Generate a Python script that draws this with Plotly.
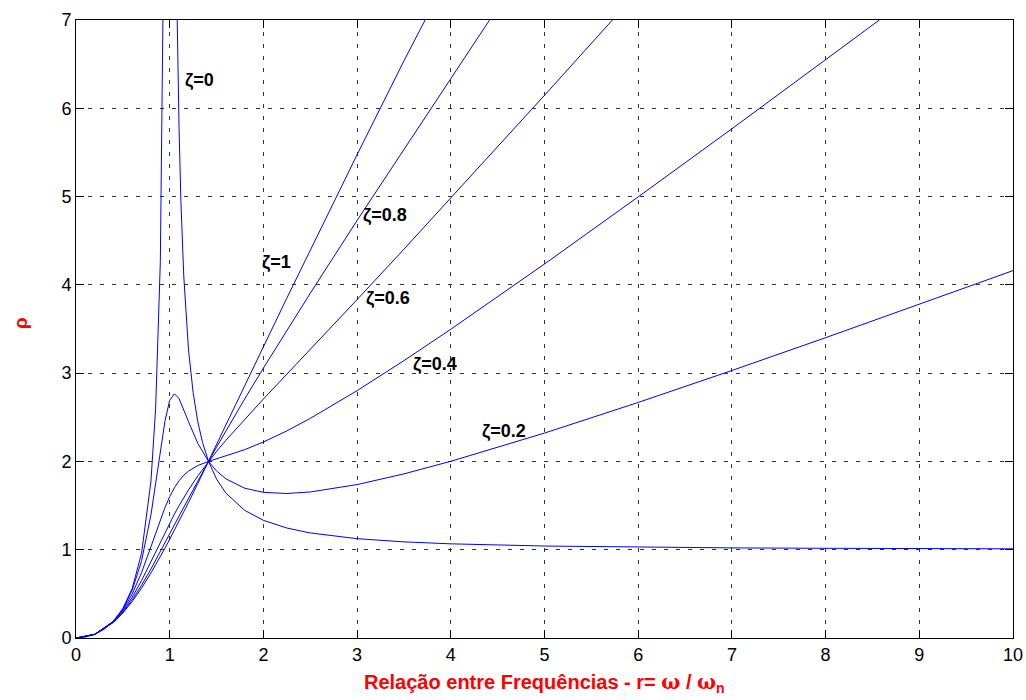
import plotly.graph_objects as go

# Frequency ratio samples r = w / wn
r_grid = [0, 0.2, 0.4, 0.5, 0.6, 0.7, 0.8, 0.85, 0.9, 0.95, 1.0, 1.05, 1.1, 1.15,
          1.2, 1.3, 1.4142, 1.5, 1.6, 1.8, 2.0, 2.25, 2.5, 3, 3.5, 4, 5, 6, 7, 8, 9, 10]

# Undamped curve (two branches around resonance)
r_z0 = [0, 0.1, 0.2, 0.3, 0.4, 0.5, 0.6, 0.7, 0.8, 0.85, 0.9, 0.92, 0.93, 0.94, 0.95, 0.98,
        None,
        1.02, 1.05, 1.06, 1.07, 1.08, 1.09, 1.1, 1.12, 1.15, 1.2, 1.25, 1.3, 1.35, 1.4142,
        1.5, 1.6, 1.8, 2.0, 2.25, 2.5, 3, 3.5, 4, 5, 6, 7, 8, 9, 10]
rho_z0 = [0, 0.0101, 0.0417, 0.0989, 0.1905, 0.3333, 0.5625, 0.9608, 1.778, 2.604, 4.263,
          5.51, 6.402, 7.59, 9.256, 24.25,
          None,
          25.75, 10.76, 9.09, 7.90, 7.01, 6.316, 5.762, 4.931, 4.101, 3.273, 2.778, 2.449,
          2.216, 2.0, 1.8, 1.641, 1.446, 1.333, 1.246, 1.190, 1.125, 1.089, 1.0667,
          1.0417, 1.0286, 1.0208, 1.0159, 1.0125, 1.0101]

rho_z02 = [0, 0.0417, 0.1895, 0.3285, 0.5416, 0.8746, 1.3951, 1.7388, 2.1149, 2.4610,
           2.6926, 2.7660, 2.7115, 2.5912, 2.4530, 2.2047, 2.0, 1.8924, 1.8025, 1.6968,
           1.6498, 1.6369, 1.6539, 1.7379, 1.8591, 2.0013, 2.3212, 2.6680, 3.0300,
           3.4015, 3.7792, 4.1614]

rho_z04 = [0, 0.0416, 0.1869, 0.3168, 0.4992, 0.7415, 1.0348, 1.1896, 1.3404, 1.4794,
           1.6008, 1.7015, 1.7816, 1.8433, 1.8902, 1.9536, 2.0, 2.0283, 2.0607, 2.1331,
           2.2198, 2.3460, 2.4876, 2.8017, 3.1417, 3.4974, 4.2364, 4.9964, 5.7679,
           6.5469, 7.33, 8.117]

rho_z06 = [0, 0.0416, 0.1834, 0.3036, 0.4605, 0.6512, 0.8653, 0.9763, 1.0872, 1.1962,
           1.3017, 1.4029, 1.4992, 1.5904, 1.6767, 1.8359, 2.0, 2.1141, 2.2402, 2.4783,
           2.7070, 2.9882, 3.2686, 3.8331, 4.4042, 4.9811, 6.1470, 7.3236, 8.506,
           9.69, 10.87, 12.05]

rho_z08 = [0, 0.0415, 0.1799, 0.2920, 0.4325, 0.5978, 0.7818, 0.8787, 0.9777, 1.0781,
           1.1793, 1.2807, 1.3819, 1.4826, 1.5826, 1.7798, 2.0, 2.1619, 2.3470, 2.7073,
           3.0573, 3.4847, 3.9044, 4.7299, 5.5452, 6.3552, 7.9672, 9.57, 11.17,
           12.77, 14.37, 15.97]

rho_z10 = [0, 0.0414, 0.1766, 0.2828, 0.4135, 0.5658, 0.7363, 0.8273, 0.9215, 1.0185,
           1.1180, 1.2197, 1.3231, 1.4281, 1.5344, 1.7501, 2.0, 2.1893, 2.4109, 2.8551,
           3.2985, 3.8494, 4.3957, 5.4745, 6.5375, 7.5880, 9.62, 11.67, 13.72,
           15.75, 17.78, 19.80]

# Curve labels: text, left x, middle y
label_text = ["ζ=0", "ζ=1", "ζ=0.8", "ζ=0.6", "ζ=0.4", "ζ=0.2"]
label_x = [1.14, 1.96, 3.04, 3.07, 3.57, 4.31]
label_y = [6.32, 4.25, 4.79, 3.84, 3.10, 2.34]

x_ticks = list(range(0, 11))
y_ticks = list(range(0, 8))

FONT = "Liberation Sans, Arial, sans-serif"
LINE = dict(color="#0000ff", width=1)

fig = go.Figure()
fig.add_trace(go.Scatter(x=r_z0, y=rho_z0, mode="lines", line=LINE, connectgaps=False))
for rho in (rho_z02, rho_z04, rho_z06, rho_z08, rho_z10):
    fig.add_trace(go.Scatter(x=r_grid, y=rho, mode="lines", line=LINE))

for t, x, y in zip(label_text, label_x, label_y):
    fig.add_annotation(x=x, y=y, text="<b>" + t + "</b>", showarrow=False,
                       xanchor="left", yanchor="middle",
                       font=dict(family=FONT, size=18, color="black"))

axis_common = dict(
    showline=True, linecolor="black", linewidth=1, mirror="ticks",
    ticks="inside", ticklen=8, tickcolor="black",
    showgrid=True, gridcolor="#333333", gridwidth=1, griddash="4px,8px",
    zeroline=False, automargin=False,
    tickfont=dict(family=FONT, size=18, color="black"),
)

fig.update_xaxes(range=[0, 10], tickvals=x_ticks, **axis_common)
fig.update_yaxes(range=[0, 7], tickvals=y_ticks, **axis_common)

# Axis titles
fig.add_annotation(xref="paper", yref="paper", x=0.5, y=0, yshift=-45,
                   xanchor="center", yanchor="middle", showarrow=False,
                   text="<b>Relação entre Frequências - r= "
                        "<span style='font-family:DejaVu Serif'>ω</span> / "
                        "<span style='font-family:DejaVu Serif'>ω</span>"
                        "<sub>n</sub></b>",
                   font=dict(family=FONT, size=20, color="red"))
fig.add_annotation(xref="paper", yref="paper", x=0, xshift=-56, y=0.5, yshift=6,
                   xanchor="center", yanchor="middle", showarrow=False, textangle=-90,
                   text="<b>ρ</b>", font=dict(family=FONT, size=19, color="red"))

fig.update_layout(
    width=1026, height=700,
    margin=dict(l=76, r=13, t=20, b=62),
    paper_bgcolor="white", plot_bgcolor="white",
    showlegend=False,
)

fig.write_html("out.html")
